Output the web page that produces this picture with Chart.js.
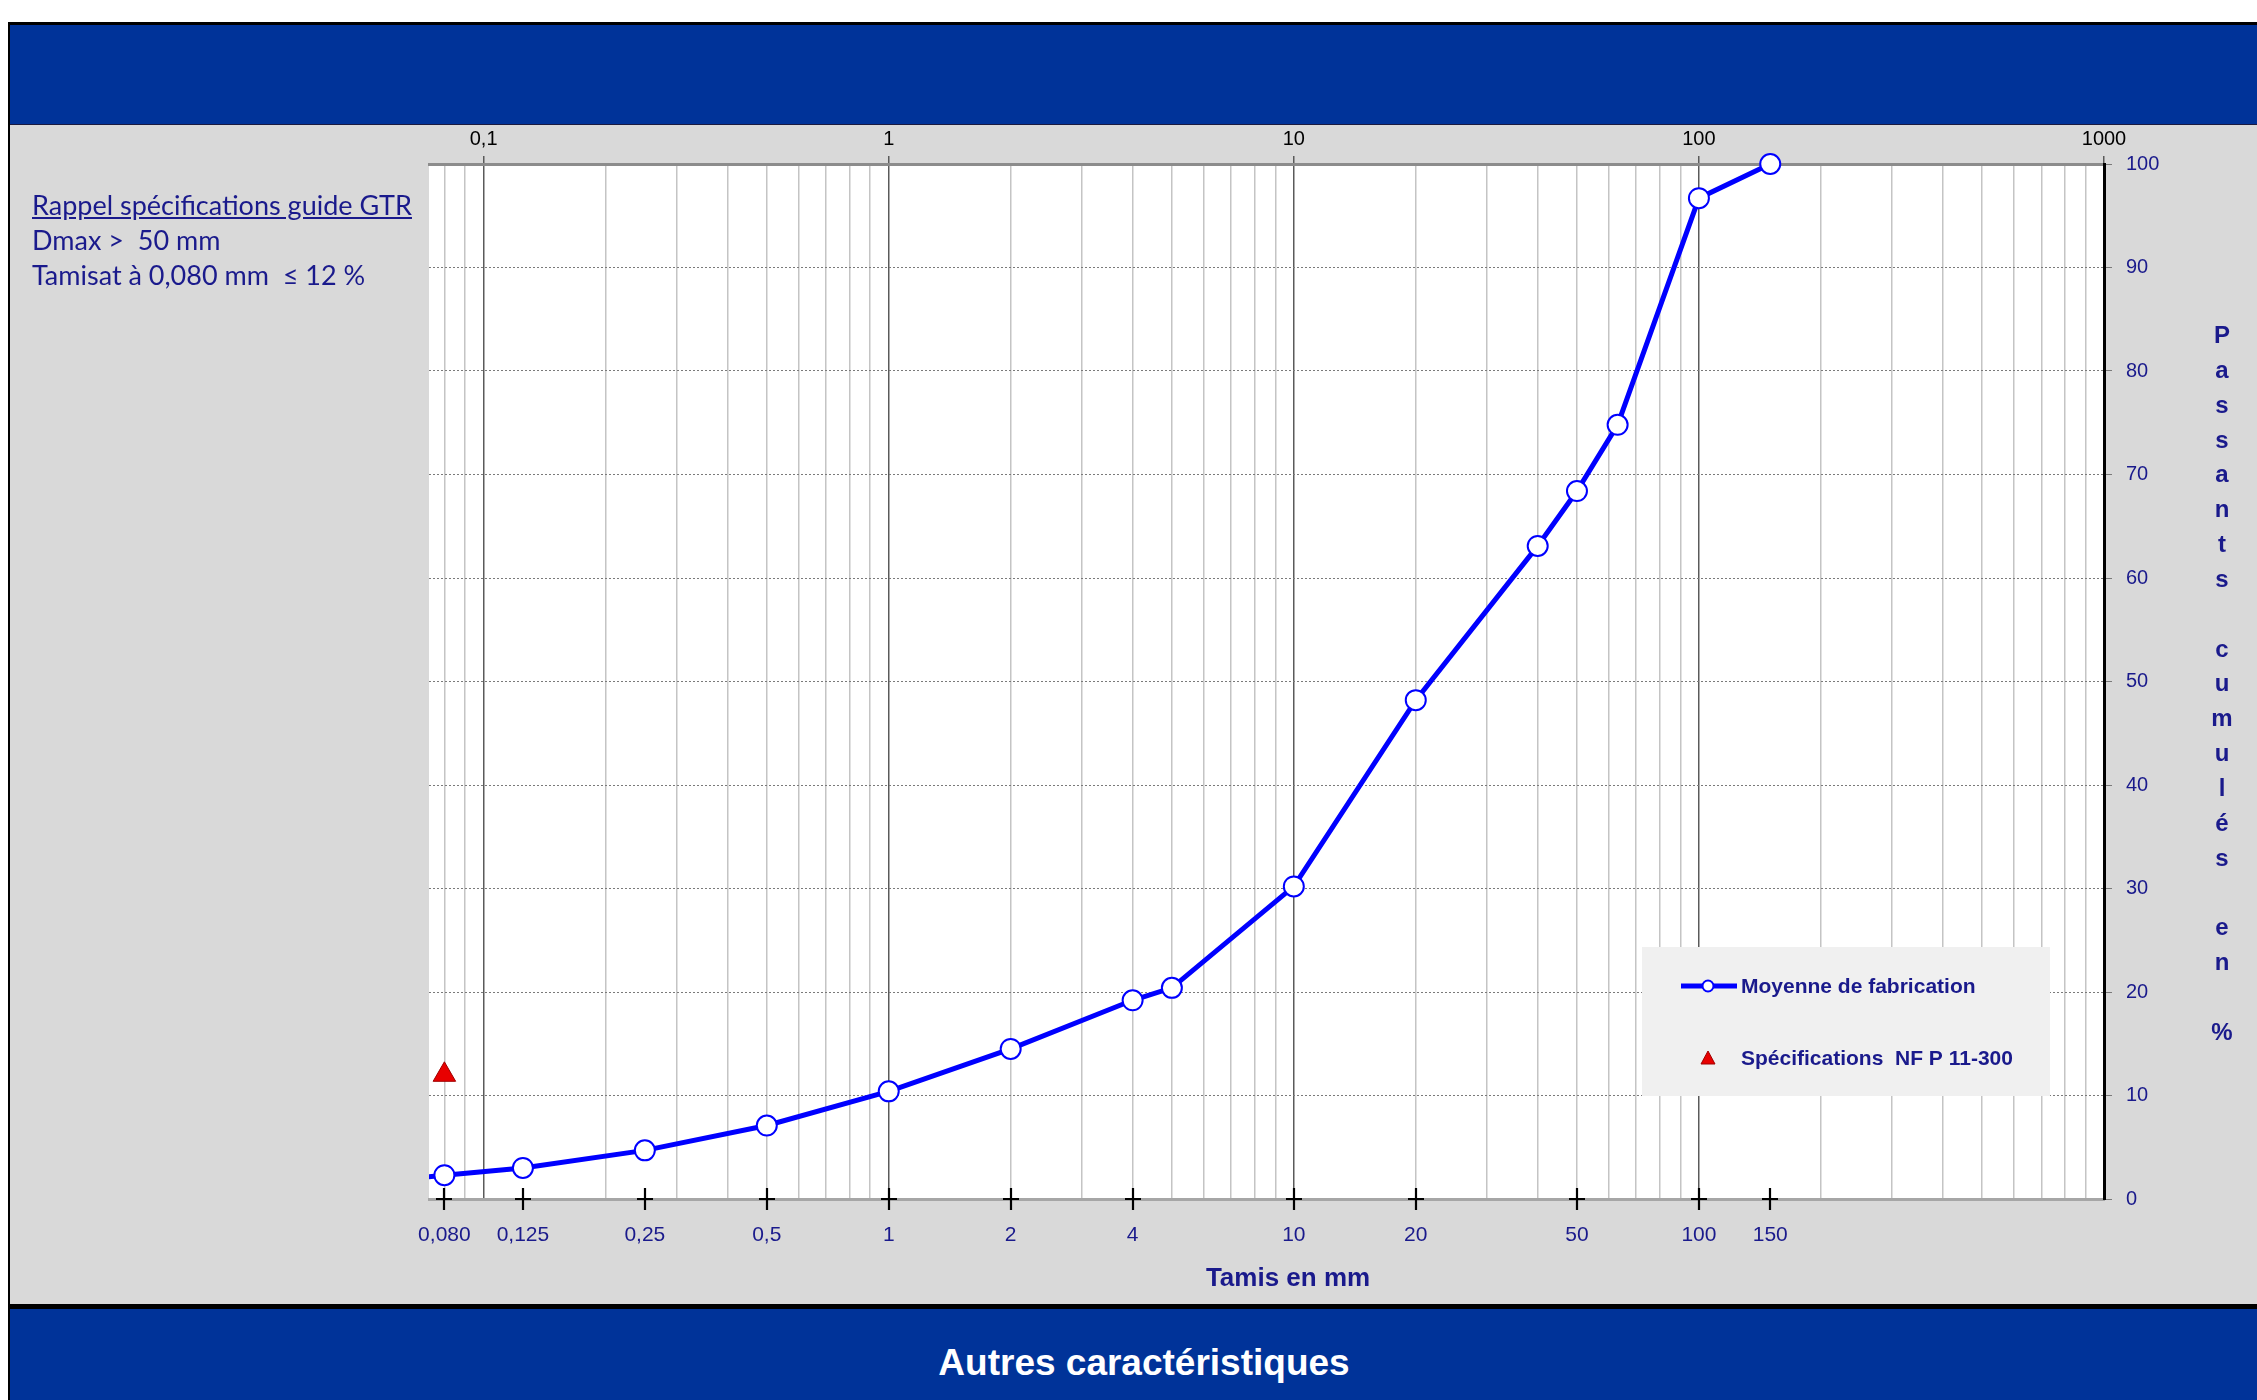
<!DOCTYPE html>
<html>
<head>
<meta charset="utf-8">
<title>Courbe granulométrique</title>
<script src="https://cdn.jsdelivr.net/npm/chart.js@4.4.0/dist/chart.umd.min.js"></script>
<style>
  body { margin: 0; width: 2257px; height: 1400px; position: relative; overflow: hidden; background: #fff;
         font-family: "Liberation Sans", Arial, sans-serif; }
  #frame { position: absolute; left: 8px; top: 22px; width: 2249px; height: 1378px; background: #d9d9d9;
           border-left: 2px solid #000; box-sizing: border-box; }
  #head { position: absolute; left: 10px; top: 22px; right: 0; height: 103px; background: #003399;
          border-top: 3px solid #000; border-bottom: 1px solid #1a1a40; box-sizing: border-box; }
  #foot { position: absolute; left: 10px; top: 1304px; right: 0; bottom: 0; background: #003399;
          border-top: 5px solid #000; box-sizing: border-box; }
  #foot span { position: absolute; left: 1134px; top: 33px; transform: translateX(-50%);
               color: #fff; font-weight: bold; font-size: 37px; white-space: nowrap; }
  #chart { position: absolute; left: 0; top: 0; }
  .note { position: absolute; left: 32px; color: #1a1a8c; font-family: Lato, "Open Sans", sans-serif;
          font-size: 27px; white-space: pre; }
  #ytitle { position: absolute; left: 2207px; top: 318px; width: 30px; text-align: center; color: #1a1a8c;
            font-weight: bold; font-size: 24px; line-height: 34.85px; white-space: pre; }
  #xtitle { position: absolute; left: 1288px; top: 1262px; transform: translateX(-50%); color: #1a1a8c;
            font-weight: bold; font-size: 26px; white-space: nowrap; }
</style>
</head>
<body>
<div id="frame"></div>
<div id="head"></div>
<div id="foot"><span>Autres caractéristiques</span></div>
<canvas id="chart" width="2257" height="1400"></canvas>
<div class="note" style="top:188px;text-decoration:underline">Rappel spécifications guide GTR</div>
<div class="note" style="top:223px">Dmax &gt;  50 mm</div>
<div class="note" style="top:258px">Tamisat à 0,080 mm  ≤ 12 %</div>
<div id="ytitle"></div>
<div id="xtitle">Tamis en mm</div>

<script>
// Sieve sizes (mm) and cumulative passing (%) - average production curve
const sieves = [0.063, 0.08, 0.125, 0.25, 0.5, 1, 2, 4, 5, 10, 20, 40, 50, 63, 100, 150];
const passing = [1.9, 2.3, 3.0, 4.7, 7.1, 10.4, 14.5, 19.2, 20.4, 30.2, 48.2, 63.1, 68.4, 74.8, 96.7, 100];

// Specification point (NF P 11-300)
const specSieves = [0.08];
const specValues = [12];

// Bottom axis: sieve ticks and their labels
const sieveTicks = [0.08, 0.125, 0.25, 0.5, 1, 2, 4, 10, 20, 50, 100, 150];
const sieveLabels = ['0,080', '0,125', '0,25', '0,5', '1', '2', '4', '10', '20', '50', '100', '150'];

// Top axis: decades
const decadeTicks = [0.1, 1, 10, 100, 1000];
const decadeLabels = ['0,1', '1', '10', '100', '1000'];

const xMin = 0.0733;
const xMax = 1000;
const navy = '#1a1a8c';

// vertical grid: 1..9 per decade
const gridValues = [];
[0.01, 0.1, 1, 10, 100].forEach(d => {
    for (let m = 1; m <= 9; m++) {
        const v = m * d;
        if (v >= xMin && v < xMax) gridValues.push(v);
    }
});
gridValues.push(1000);

// stacked letters of the right axis title
document.getElementById('ytitle').textContent = 'Passants cumulés en %'.split('').join('\n');

Chart.defaults.font.family = '"Liberation Sans", Arial, sans-serif';

// white plot background
const plotBackground = {
    id: 'plotBackground',
    beforeDraw(chart) {
        const { ctx, chartArea } = chart;
        ctx.save();
        ctx.fillStyle = '#fff';
        ctx.fillRect(chartArea.left, chartArea.top, chartArea.right - chartArea.left, chartArea.bottom - chartArea.top);
        ctx.restore();
    }
};

// "+" marks on the bottom axis at each sieve size
const sieveCrosses = {
    id: 'sieveCrosses',
    afterDatasetsDraw(chart) {
        const { ctx, chartArea, scales } = chart;
        ctx.save();
        ctx.strokeStyle = '#000';
        ctx.lineWidth = 2.2;
        sieveTicks.forEach(v => {
            const x = Math.round(scales.x.getPixelForValue(v));
            const y = chartArea.bottom;
            ctx.beginPath();
            ctx.moveTo(x - 8, y);
            ctx.lineTo(x + 8, y);
            ctx.moveTo(x, y - 11);
            ctx.lineTo(x, y + 11);
            ctx.stroke();
        });
        ctx.restore();
    }
};

// legend box inside the plot
const legendBox = {
    id: 'legendBox',
    afterDraw(chart) {
        const ctx = chart.ctx;
        const sets = chart.data.datasets;
        ctx.save();
        ctx.fillStyle = '#f0f0f0';
        ctx.fillRect(1642, 947, 408, 149);

        // line + circle sample
        ctx.strokeStyle = sets[0].borderColor;
        ctx.lineWidth = 5;
        ctx.beginPath();
        ctx.moveTo(1681, 986);
        ctx.lineTo(1737, 986);
        ctx.stroke();
        ctx.fillStyle = '#fff';
        ctx.lineWidth = 2;
        ctx.beginPath();
        ctx.arc(1708, 986, 5.5, 0, Math.PI * 2);
        ctx.fill();
        ctx.stroke();

        // triangle sample
        ctx.fillStyle = sets[1].backgroundColor;
        ctx.strokeStyle = sets[1].borderColor;
        ctx.lineWidth = 1;
        ctx.beginPath();
        ctx.moveTo(1708, 1051);
        ctx.lineTo(1715, 1064);
        ctx.lineTo(1701, 1064);
        ctx.closePath();
        ctx.fill();
        ctx.stroke();

        ctx.fillStyle = navy;
        ctx.font = 'bold 21px "Liberation Sans", Arial, sans-serif';
        ctx.textBaseline = 'middle';
        ctx.fillText(sets[0].label, 1741, 987);
        ctx.fillText(sets[1].label, 1741, 1059);
        ctx.restore();
    }
};

new Chart(document.getElementById('chart'), {
    type: 'line',
    data: {
        datasets: [{
            label: 'Moyenne de fabrication',
            data: sieves.map((s, i) => ({ x: s, y: passing[i] })),
            borderColor: '#0000ff',
            borderWidth: 5,
            pointRadius: 10,
            pointBackgroundColor: '#fff',
            pointBorderColor: '#0000ff',
            pointBorderWidth: 2,
            tension: 0,
            clip: { left: 0, top: 20, right: 20, bottom: 20 }
        }, {
            label: 'Spécifications  NF P 11-300',
            data: specSieves.map((s, i) => ({ x: s, y: specValues[i] })),
            showLine: false,
            pointStyle: 'triangle',
            pointRadius: 13,
            backgroundColor: '#e80000',
            borderColor: '#a00000',
            pointBackgroundColor: '#e80000',
            pointBorderColor: '#a00000',
            pointBorderWidth: 1,
            clip: false
        }]
    },
    options: {
        responsive: false,
        animation: false,
        layout: { padding: { left: 429, right: 0, top: 124, bottom: 101 } },
        plugins: { legend: { display: false }, tooltip: { enabled: false } },
        scales: {
            x: {
                type: 'logarithmic',
                position: 'bottom',
                min: xMin,
                max: xMax,
                afterBuildTicks: s => { s.ticks = sieveTicks.map(v => ({ value: v })); },
                afterFit: s => { s.height = 100; },
                grid: { display: false, drawTicks: false },
                border: { color: '#a6a6a6', width: 3 },
                ticks: {
                    autoSkip: false, maxRotation: 0, color: navy, padding: 24,
                    font: { size: 21 },
                    callback: (v, i) => sieveLabels[i]
                }
            },
            x2: {
                type: 'logarithmic',
                position: 'top',
                min: xMin,
                max: xMax,
                afterBuildTicks: s => { s.ticks = gridValues.map(v => ({ value: v })); },
                afterFit: s => { s.height = 40; },
                grid: {
                    color: c => {
                        const v = c.tick ? c.tick.value : 0;
                        if (v === 1000) return '#000';
                        return decadeTicks.indexOf(v) >= 0 ? '#5a5a5a' : '#c4c4c4';
                    },
                    lineWidth: 1.5,
                    tickLength: 8,
                    tickColor: c => (c.tick && decadeTicks.indexOf(c.tick.value) >= 0) ? '#5a5a5a' : 'rgba(0,0,0,0)'
                },
                border: { color: '#8c8c8c', width: 3 },
                ticks: {
                    autoSkip: false, maxRotation: 0, color: '#000', padding: 5,
                    font: { size: 20 },
                    callback: v => {
                        const k = decadeTicks.indexOf(v);
                        return k >= 0 ? decadeLabels[k] : '';
                    }
                }
            },
            y: {
                position: 'right',
                min: 0,
                max: 100,
                afterFit: s => { s.width = 153; },
                grid: {
                    color: c => (c.tick && (c.tick.value === 0 || c.tick.value === 100)) ? 'rgba(0,0,0,0)' : '#7a7a7a',
                    lineWidth: 1,
                    tickLength: 8,
                    tickColor: '#7a7a7a'
                },
                border: { color: '#000', width: 3, dash: [2, 2] },
                ticks: { stepSize: 10, color: navy, padding: 14, font: { size: 20 } }
            }
        }
    },
    plugins: [plotBackground, sieveCrosses, legendBox]
});
</script>
</body>
</html>
